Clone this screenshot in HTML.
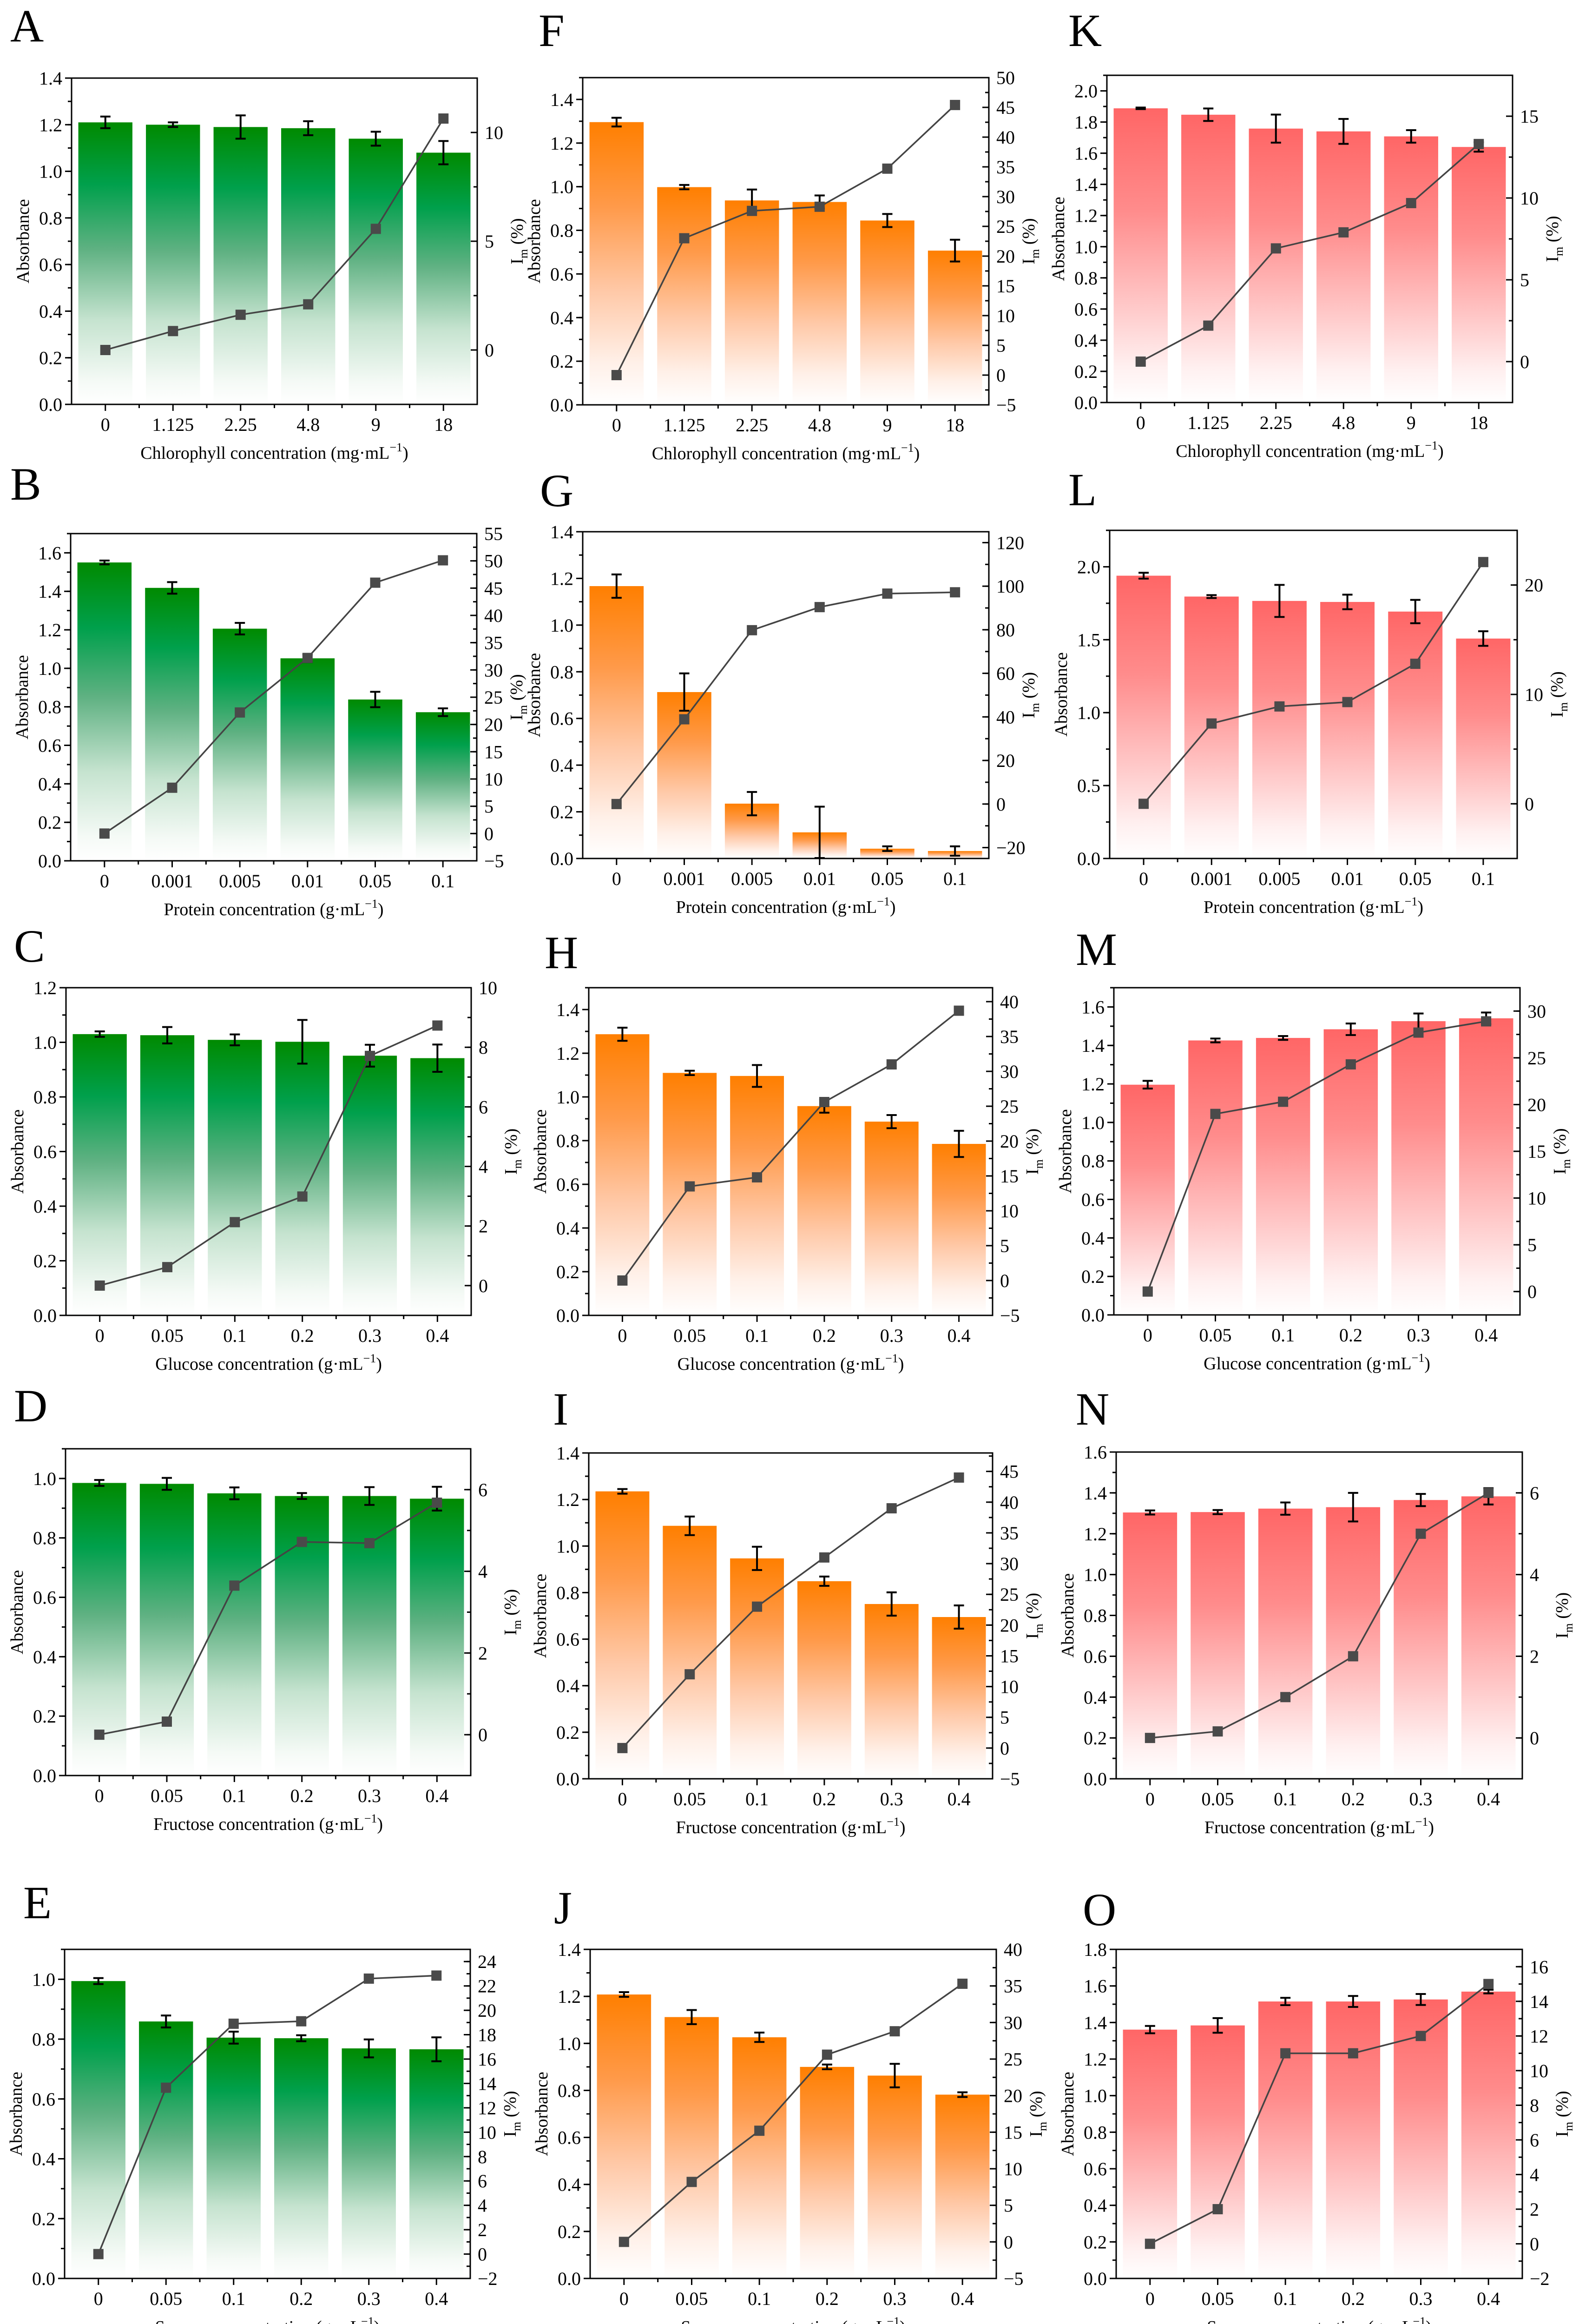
<!DOCTYPE html>
<html><head><meta charset="utf-8">
<style>
html,body{margin:0;padding:0;background:#fff;width:3398px;height:5046px;overflow:hidden;}
svg{display:block;font-family:"Liberation Serif","Times New Roman",serif;overflow:hidden;}
</style></head>
<body>
<svg id="fig" xmlns="http://www.w3.org/2000/svg" width="3398" height="5046" viewBox="0 0 3398 5046">
<defs>
<linearGradient id="gGreen" x1="0" y1="0" x2="0" y2="1">
<stop offset="0" stop-color="#008a00"/><stop offset="0.22" stop-color="#00a04c"/><stop offset="0.45" stop-color="#5fb182"/><stop offset="0.7" stop-color="#c5e3cf"/><stop offset="0.92" stop-color="#f5faf6"/><stop offset="1" stop-color="#ffffff"/>
</linearGradient>
<linearGradient id="gOrange" x1="0" y1="0" x2="0" y2="1">
<stop offset="0" stop-color="#ff7f00"/><stop offset="0.3" stop-color="#ff9a4a"/><stop offset="0.6" stop-color="#ffc9a8"/><stop offset="0.85" stop-color="#fff0e8"/><stop offset="1" stop-color="#ffffff"/>
</linearGradient>
<linearGradient id="gRed" x1="0" y1="0" x2="0" y2="1">
<stop offset="0" stop-color="#ff6666"/><stop offset="0.35" stop-color="#ff8c8c"/><stop offset="0.65" stop-color="#ffc4c4"/><stop offset="0.88" stop-color="#fff0f0"/><stop offset="1" stop-color="#ffffff"/>
</linearGradient>
</defs>
</svg>
<script>
const chlCats=["0","1.125","2.25","4.8","9","18"];
const protCats=["0","0.001","0.005","0.01","0.05","0.1"];
const sugarCats=["0","0.05","0.1","0.2","0.3","0.4"];

const absA=[1.21,1.20,1.19,1.185,1.14,1.08]; const errA=[0.025,0.01,0.05,0.03,0.03,0.05]; const imA=[0,0.87,1.62,2.1,5.57,10.64];
const absB=[1.55,1.418,1.206,1.052,0.838,0.772]; const errB=[0.01,0.03,0.03,0.02,0.04,0.02]; const imB=[0,8.4,22.2,32.2,46.0,50.1];
const absC=[1.03,1.026,1.009,1.002,0.951,0.942]; const errC=[0.01,0.03,0.02,0.08,0.04,0.05]; const imC=[0,0.62,2.13,2.99,7.71,8.73];
const absD=[0.985,0.982,0.95,0.941,0.941,0.932]; const errD=[0.01,0.02,0.02,0.01,0.03,0.04]; const imD=[0,0.32,3.65,4.72,4.69,5.68];
const absE=[0.994,0.859,0.805,0.803,0.769,0.766]; const errE=[0.01,0.02,0.02,0.01,0.03,0.04]; const imE=[0,13.65,18.9,19.1,22.6,22.85];
const absF=[1.296,0.998,0.937,0.93,0.845,0.707]; const errF=[0.02,0.01,0.05,0.03,0.03,0.05]; const imF=[0,23.0,27.6,28.3,34.7,45.4];
const absG=[1.167,0.713,0.235,0.112,0.042,0.032]; const errG=[0.05,0.08,0.05,0.11,0.01,0.02]; const imG=[0,38.9,79.8,90.4,96.6,97.2];
const absH=[1.287,1.11,1.096,0.958,0.887,0.785]; const errH=[0.03,0.01,0.05,0.03,0.03,0.06]; const imH=[0,13.5,14.8,25.6,31.0,38.7];
const absI=[1.235,1.087,0.947,0.849,0.751,0.695]; const errI=[0.01,0.04,0.05,0.02,0.05,0.05]; const imI=[0,12,23,31,39,44];
const absJ=[1.208,1.112,1.026,0.90,0.863,0.782]; const errJ=[0.01,0.03,0.02,0.01,0.05,0.01]; const imJ=[0,8.2,15.2,25.6,28.8,35.3];
const absK=[1.888,1.847,1.758,1.74,1.708,1.64]; const errK=[0.005,0.04,0.09,0.08,0.04,0.03]; const imK=[0,2.2,6.92,7.9,9.69,13.3];
const absL=[1.939,1.796,1.766,1.759,1.693,1.508]; const errL=[0.02,0.01,0.11,0.05,0.08,0.05]; const imL=[0,7.34,8.9,9.3,12.8,22.1];
const absM=[1.196,1.426,1.439,1.484,1.526,1.541]; const errM=[0.02,0.01,0.01,0.03,0.04,0.03]; const imM=[0,19.0,20.3,24.3,27.7,28.9];
const absN=[1.304,1.306,1.323,1.33,1.365,1.383]; const errN=[0.01,0.01,0.03,0.07,0.03,0.04]; const imN=[0,0.16,1.0,2.0,5.0,6.0];
const absO=[1.361,1.384,1.515,1.515,1.526,1.569]; const errO=[0.02,0.04,0.02,0.03,0.03,0.01]; const imO=[0,2.0,11.0,11.0,12.0,15.0];

const CHL="Chlorophyll concentration (mg·mL", PRO="Protein concentration (g·mL", GLU="Glucose concentration (g·mL", FRU="Fructose concentration (g·mL", SUC="Sucrose concentration (g·mL";

const panels=[
{id:"A",abs:absA,err:errA,im:imA,cats:chlCats,xt:CHL,col:"gGreen",L:154,R:1027,T:168,B:870,yMax:1.4,yStep:0.2,yMin:0.1,rMin:-2.5,rMax:12.5,rStart:0,rStep:5,rMinor:2.5,lx:22,ly:89},
{id:"F",abs:absF,err:errF,im:imF,cats:chlCats,xt:CHL,col:"gOrange",L:1254,R:2128,T:167,B:871,yMax:1.5,yStep:0.2,yMin:0.1,rMin:-5,rMax:50,rStart:-5,rStep:5,rMinor:2.5,lx:1159,ly:99},
{id:"K",abs:absK,err:errK,im:imK,cats:chlCats,xt:CHL,col:"gRed",L:2382,R:3255,T:162,B:866,yMax:2.1,yStep:0.2,yMin:0.1,rMin:-2.5,rMax:17.5,rStart:0,rStep:5,rMinor:2.5,lx:2299,ly:99},
{id:"B",abs:absB,err:errB,im:imB,cats:protCats,xt:PRO,col:"gGreen",L:152,R:1026,T:1148,B:1852,yMax:1.7,yStep:0.2,yMin:0.1,rMin:-5,rMax:55,rStart:-5,rStep:5,rMinor:2.5,lx:22,ly:1075},
{id:"G",abs:absG,err:errG,im:imG,cats:protCats,xt:PRO,col:"gOrange",L:1254,R:2128,T:1144,B:1847,yMax:1.4,yStep:0.2,yMin:0.1,rMin:-25,rMax:125,rStart:-20,rStep:20,rMinor:10,lx:1162,ly:1089},
{id:"L",abs:absL,err:errL,im:imL,cats:protCats,xt:PRO,col:"gRed",L:2388,R:3265,T:1141,B:1847,yMax:2.25,yStep:0.5,yMin:0.25,rMin:-5,rMax:25,rStart:0,rStep:10,rMinor:5,lx:2299,ly:1087},
{id:"C",abs:absC,err:errC,im:imC,cats:sugarCats,xt:GLU,col:"gGreen",L:142,R:1014,T:2125,B:2830,yMax:1.2,yStep:0.2,yMin:0.1,rMin:-1,rMax:10,rStart:0,rStep:2,rMinor:1,lx:30,ly:2069},
{id:"H",abs:absH,err:errH,im:imH,cats:sugarCats,xt:GLU,col:"gOrange",L:1267,R:2136,T:2125,B:2830,yMax:1.5,yStep:0.2,yMin:0.1,rMin:-5,rMax:42,rStart:-5,rStep:5,rMinor:2.5,lx:1172,ly:2083},
{id:"M",abs:absM,err:errM,im:imM,cats:sugarCats,xt:GLU,col:"gRed",L:2397,R:3271,T:2125,B:2829,yMax:1.7,yStep:0.2,yMin:0.1,rMin:-2.5,rMax:32.5,rStart:0,rStep:5,rMinor:2.5,lx:2315,ly:2076},
{id:"D",abs:absD,err:errD,im:imD,cats:sugarCats,xt:FRU,col:"gGreen",L:141,R:1013,T:3117,B:3820,yMax:1.1,yStep:0.2,yMin:0.1,rMin:-1,rMax:7,rStart:0,rStep:2,rMinor:1,lx:30,ly:3058},
{id:"I",abs:absI,err:errI,im:imI,cats:sugarCats,xt:FRU,col:"gOrange",L:1267,R:2136,T:3126,B:3827,yMax:1.4,yStep:0.2,yMin:0.1,rMin:-5,rMax:48,rStart:-5,rStep:5,rMinor:2.5,lx:1190,ly:3065},
{id:"N",abs:absN,err:errN,im:imN,cats:sugarCats,xt:FRU,col:"gRed",L:2402,R:3276,T:3124,B:3827,yMax:1.6,yStep:0.2,yMin:0.1,rMin:-1,rMax:7,rStart:0,rStep:2,rMinor:1,lx:2315,ly:3065},
{id:"E",abs:absE,err:errE,im:imE,cats:sugarCats,xt:SUC,col:"gGreen",L:139,R:1012,T:4194,B:4902,yMax:1.1,yStep:0.2,yMin:0.1,rMin:-2,rMax:25,rStart:-2,rStep:2,rMinor:1,lx:50,ly:4127},
{id:"J",abs:absJ,err:errJ,im:imJ,cats:sugarCats,xt:SUC,col:"gOrange",L:1270,R:2144,T:4194,B:4902,yMax:1.4,yStep:0.2,yMin:0.1,rMin:-5,rMax:40,rStart:-5,rStep:5,rMinor:2.5,lx:1192,ly:4138},
{id:"O",abs:absO,err:errO,im:imO,cats:sugarCats,xt:SUC,col:"gRed",L:2402,R:3276,T:4194,B:4902,yMax:1.8,yStep:0.2,yMin:0.1,rMin:-2,rMax:17,rStart:-2,rStep:2,rMinor:1,lx:2330,ly:4142}
];

const NS="http://www.w3.org/2000/svg";
const svg=document.getElementById("fig");
function mk(tag,attrs,parent){const e=document.createElementNS(NS,tag);for(const k in attrs)e.setAttribute(k,attrs[k]);parent.appendChild(e);return e;}
function fmtR(v){const s=String(Math.round(v*100)/100);return v<0?"\u2212"+s.slice(1):s;}

panels.forEach(p=>{
  const g=mk("g",{},svg);
  
  
  const W=p.R-p.L, cw=W/6, bw=0.8*cw;
  const xC=i=>p.L+(i+0.5)*cw;
  const yL=v=>p.B-v/p.yMax*(p.B-p.T);
  const yR=v=>p.B-(v-p.rMin)/(p.rMax-p.rMin)*(p.B-p.T);

  const lab=mk("text",{x:p.lx,y:p.ly,"font-size":100},g);
  
  
  lab.textContent=p.id;

  p.abs.forEach((v,i)=>{
    const r=mk("rect",{x:xC(i)-bw/2,y:yL(v),width:bw,height:p.B-yL(v),fill:"url(#"+p.col+")"},g);
    
    
  });
  p.abs.forEach((v,i)=>{
    const e=p.err[i], x=xC(i), y1=yL(v+e), y2=yL(Math.max(0,v-e));
    const eg=mk("g",{stroke:"#000","stroke-width":4},g);
    
    
    mk("line",{x1:x,x2:x,y1:y1,y2:y2},eg);
    mk("line",{x1:x-11,x2:x+11,y1:y1,y2:y1},eg);
    mk("line",{x1:x-11,x2:x+11,y1:y2,y2:y2},eg);
  });
  const pts=p.im.map((v,i)=>xC(i)+","+yR(v)).join(" ");
  const pl=mk("polyline",{points:pts,fill:"none",stroke:"#444","stroke-width":3.5},g);
  
  
  p.im.forEach((v,i)=>{
    const m=mk("rect",{x:xC(i)-11,y:yR(v)-11,width:22,height:22,fill:"#4a4a4a"},g);
    
    
  });

  const ax=mk("g",{stroke:"#000","stroke-width":3,fill:"none"},g);
  
  
  mk("rect",{x:p.L,y:p.T,width:W,height:p.B-p.T},ax);
  const tl=mk("g",{"font-size":40,fill:"#000"},g);
  
  
  for(let v=0;v<=p.yMax+1e-9;v+=p.yMin){mk("line",{x1:p.L-8,x2:p.L,y1:yL(v),y2:yL(v)},ax);}
  for(let k=0;k*p.yStep<=p.yMax+1e-9;k++){const v=k*p.yStep;
    mk("line",{x1:p.L-14,x2:p.L,y1:yL(v),y2:yL(v)},ax);
    const t=mk("text",{x:p.L-20,y:yL(v)+14,"text-anchor":"end"},tl);t.textContent=v.toFixed(1);}
  for(let v=Math.ceil(p.rMin/p.rMinor)*p.rMinor;v<=p.rMax+1e-9;v+=p.rMinor){mk("line",{x1:p.R-8,x2:p.R,y1:yR(v),y2:yR(v)},ax);}
  for(let v=p.rStart;v<=p.rMax+1e-9;v+=p.rStep){
    mk("line",{x1:p.R-14,x2:p.R,y1:yR(v),y2:yR(v)},ax);
    const t=mk("text",{x:p.R+16,y:yR(v)+14,"text-anchor":"start"},tl);t.textContent=fmtR(v);}
  for(let i=1;i<6;i++){const x=p.L+i*cw;mk("line",{x1:x,x2:x,y1:p.B,y2:p.B+8},ax);}
  p.cats.forEach((c,i)=>{mk("line",{x1:xC(i),x2:xC(i),y1:p.B,y2:p.B+14},ax);
    const t=mk("text",{x:xC(i),y:p.B+57,"text-anchor":"middle"},tl);t.textContent=c;});
  const xt=mk("text",{x:(p.L+p.R)/2,y:p.B+117,"text-anchor":"middle","font-size":38},g);
  
  
  xt.appendChild(document.createTextNode(p.xt));
  const sp=mk("tspan",{"font-size":26,dy:-16},xt);sp.textContent="\u22121";
  const sp2=mk("tspan",{dy:16},xt);sp2.textContent=")";
  const cy=(p.T+p.B)/2;
  const yt=mk("text",{x:p.L-92,y:cy,"text-anchor":"middle","font-size":38,transform:"rotate(-90 "+(p.L-92)+" "+cy+")"},g);
  
  
  yt.textContent="Absorbance";
  const rx=p.R+98;
  const rt=mk("text",{x:rx,y:cy,"text-anchor":"middle","font-size":38,transform:"rotate(-90 "+rx+" "+cy+")"},g);
  
  
  rt.appendChild(document.createTextNode("I"));
  const s1=mk("tspan",{"font-size":26,dy:10},rt);s1.textContent="m";
  const s2=mk("tspan",{dy:-10},rt);s2.textContent=" (%)";
});
</script>
</body></html>
